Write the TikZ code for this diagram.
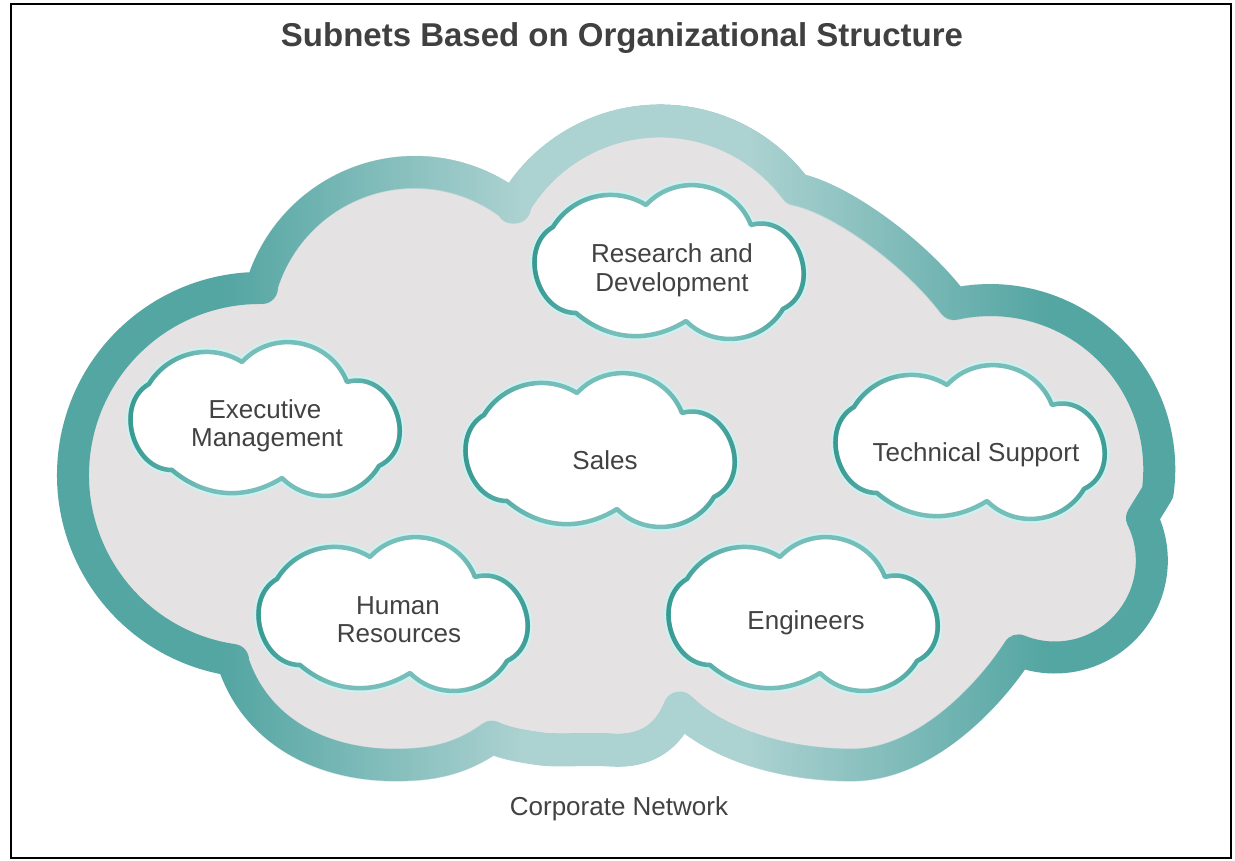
\documentclass[tikz,border=0pt]{standalone}
\usepackage{fontspec}
\setmainfont{Liberation Sans}
\usetikzlibrary{fadings}

\definecolor{bigteal}{RGB}{84,166,163}
\definecolor{biglight}{RGB}{172,210,209}
\definecolor{cloudgray}{RGB}{228,226,227}
\definecolor{scdark}{RGB}{16,132,122}
\definecolor{sclight}{RGB}{118,190,185}
\definecolor{halocol}{RGB}{205,240,240}
\definecolor{txtcol}{RGB}{66,66,66}
\definecolor{titlecol}{RGB}{64,64,64}

\pgfdeclarehorizontalshading{bigmidshade}{100bp}{color(0bp)=(black); color(33bp)=(black); color(46bp)=(white); color(56bp)=(white); color(69bp)=(black); color(100bp)=(black)}
\pgfdeclarefading{bigmidfade}{\pgfuseshading{bigmidshade}}
\pgfdeclarehorizontalshading{edgeshade}{100bp}{color(0bp)=(white); color(20bp)=(white); color(40bp)=(black); color(60bp)=(black); color(80bp)=(white); color(100bp)=(white)}
\pgfdeclarefading{edgefade}{\pgfuseshading{edgeshade}}

\tikzset{
  scpath/.style={insert path={(-118,34) to[bend left=45] (-25,56) to[bend left=58,looseness=1.1] (80,36) to[bend left=85,looseness=1.35] (112,-48) to[bend left=52,looseness=1.05] (15,-60) to[bend left=36] (-95,-52) to[bend left=75,looseness=1.15] (-118,34) -- cycle}},
  smallcloud/.pic={
    \draw[draw=halocol, line width=9pt, scpath];
    \fill[white, scpath];
    \draw[draw=sclight, line width=4.5pt, line join=round, scpath];
    \draw[draw=scdark, line width=4.5pt, line join=round, path fading=edgefade, scpath];
  },
  bigpath/.style={insert path={
    (233,660) arc[start angle=98.3, end angle=270.6, radius=187]
    -- (262,285) arc[start angle=197.1, end angle=308.6, radius=160]
    -- (513,207) arc[start angle=209.3, end angle=323.5, radius=169]
    .. controls (840,198) and (915,252) .. (954,304)
    arc[start angle=257.6, end angle=368, radius=169]
    -- (1142,518) arc[start angle=-26, end angle=112, radius=97]
    .. controls (990,695) and (925,765) .. (852,765)
    .. controls (785,765) and (718,745) .. (680,708)
    .. controls (668,738) and (645,752) .. (612,750)
    .. controls (580,748) and (560,752) .. (535,748)
    .. controls (515,745) and (502,742) .. (492,737)
    .. controls (460,760) and (430,765) .. (395,765)
    .. controls (320,765) and (255,730) .. (233,662)
    -- cycle}},
  lbl/.style={font=\fontsize{26}{29}\selectfont, text=txtcol, anchor=base, inner sep=0pt},
  ttl/.style={font=\fontsize{33}{40}\selectfont\bfseries, text=titlecol, anchor=base, inner sep=0pt},
}

\begin{document}
\begin{tikzpicture}[x=1pt,y=1pt]
\useasboundingbox (0,0) rectangle (1235,860);
\fill[white] (0,0) rectangle (1235,860);

% corporate network cloud
\begin{scope}[shift={(0,860)}, yscale=-1]
  \draw[fill=cloudgray, draw=bigteal, line width=32pt, line join=round, bigpath];
  \draw[draw=biglight, line width=33pt, line join=round, path fading=bigmidfade, bigpath];
\end{scope}

% subnet clouds
\pic (rdcloud) at (671,{860-261}) {smallcloud};
\pic (emcloud) at (267,{860-418}) {smallcloud};
\pic (salescloud) at (602,{860-449}) {smallcloud};
\pic (tscloud) at (972,{860-441}) {smallcloud};
\pic (hrcloud) at (395,{860-613}) {smallcloud};
\pic (engcloud) at (805,{860-613}) {smallcloud};

% labels
\node[ttl] (title) at (622,{860-47}) {Subnets Based on Organizational Structure};
\node[lbl] (rd1) at (672,{860-263}) {Research and};
\node[lbl] (rd2) at (672,{860-292}) {Development};
\node[lbl] (em1) at (265,{860-419}) {Executive};
\node[lbl] (em2) at (267,{860-447}) {Management};
\node[lbl] (sales) at (605,{860-470}) {Sales};
\node[lbl] (ts) at (976,{860-462}) {Technical Support};
\node[lbl] (hr1) at (398,{860-615}) {Human};
\node[lbl] (hr2) at (399,{860-643}) {Resources};
\node[lbl] (eng) at (806,{860-630}) {Engineers};
\node[lbl] (corp) at (619,{860-816}) {Corporate Network};

% frame
\draw[black, line width=2.5pt] (11,856) rectangle (1231,2);
\end{tikzpicture}
\end{document}
